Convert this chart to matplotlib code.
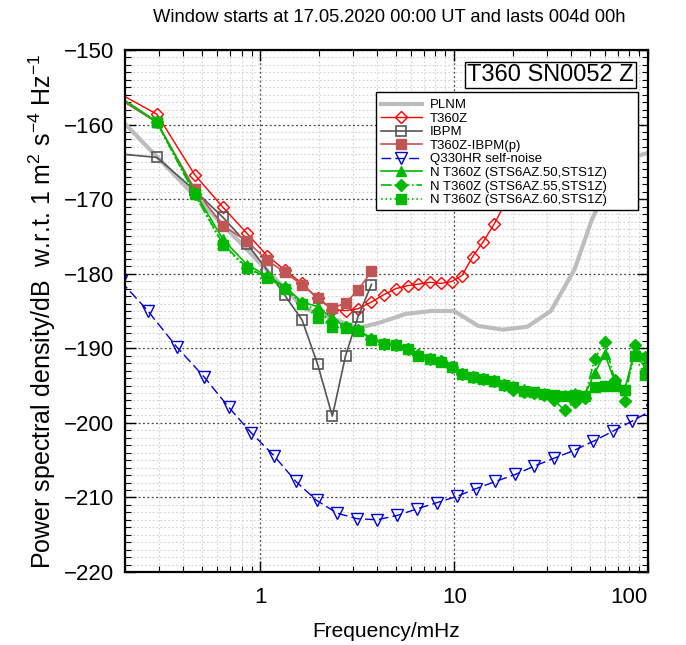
import numpy as np
import matplotlib
matplotlib.use('Agg')
import matplotlib.pyplot as plt
from matplotlib.patches import Rectangle
from matplotlib.ticker import LogLocator, NullFormatter, MultipleLocator, FixedLocator, FixedFormatter

plt.rcParams['font.family'] = ['Liberation Sans', 'DejaVu Sans']
plt.rcParams['mathtext.fontset'] = 'custom'
plt.rcParams['mathtext.rm'] = 'Liberation Sans'
plt.rcParams['mathtext.it'] = 'Liberation Sans:italic'
plt.rcParams['mathtext.bf'] = 'Liberation Sans:bold'

#======================================================================
# values (frequency in mHz, PSD in dB)

plnm_f = [0.2, 1.67, 3.2, 4.2, 5.6, 7.6, 10.0, 13.3, 17.8, 23.9, 31.5, 41.8, 50.9, 63.0, 80.0, 100.0]
plnm_v = [-159.9, -184.6, -187.3, -186.5, -185.4, -185.0, -185.0, -187.0, -187.5, -187.1,
          -185.0, -179.4, -173.0, -167.5, -164.5, -163.8]

# T360Z / IBPM / T360Z-IBPM(p) share one frequency grid
f_lo = [0.18, 0.292, 0.457, 0.641, 0.853, 1.083, 1.336, 1.64, 1.97, 2.35, 2.75, 3.19, 3.74]

t360z_f = [0.18, 0.292, 0.457, 0.641, 0.853, 1.083, 1.336, 1.64, 1.97, 2.35, 2.75, 3.19, 3.74,
           4.34, 4.99, 5.74, 6.54, 7.49, 8.53, 9.70, 10.96, 12.45, 14.13, 16.1, 18.3, 20.8]
t360z_v = [-155.6, -158.6, -166.7, -171.1, -174.6, -177.6, -179.5, -181.3, -183.3, -184.8,
           -184.95, -184.7, -183.8, -182.8, -182.0, -181.6, -181.4, -181.15, -181.3, -181.05,
           -180.25, -177.7, -175.7, -173.3, -170.6, -167.8]

ibpm_v = [-163.9, -164.4, -168.8, -172.45, -176.0, -179.5, -182.9, -186.2, -192.1, -199.1,
          -191.0, -185.75, -181.45]

resid_v = [-156.3, -159.7, -168.6, -173.55, -175.65, -178.2, -179.8, -181.5, -183.25, -184.65,
           -183.9, -182.2, -179.7]

q330_f = [0.19, 0.262, 0.371, 0.510, 0.686, 0.896, 1.172, 1.524, 1.95, 2.48, 3.16, 4.01, 5.09,
          6.46, 8.13, 10.3, 12.9, 16.3, 20.7, 25.9, 32.9, 41.4, 52.3, 65.9, 82.6, 105.0]
q330_v = [-181.0, -184.96, -189.87, -193.79, -197.90, -201.34, -204.38, -207.86, -210.40,
          -212.10, -212.86, -212.99, -212.41, -211.52, -210.71, -209.87, -208.84, -207.86,
          -206.92, -205.80, -204.73, -203.71, -202.46, -201.12, -199.78, -198.3]

n_f = [0.18, 0.292, 0.457, 0.641, 0.853, 1.083, 1.336, 1.64, 1.97, 2.35, 2.75, 3.19, 3.74,
       4.34, 4.99, 5.74, 6.54, 7.49, 8.53, 9.70, 10.96, 12.45, 14.13, 16.1, 18.1, 20.2, 23.0,
       25.9, 29.2, 32.9, 37.1, 41.8, 47.1, 53.1, 59.8, 67.4, 75.9, 85.5, 96.4]

n50_v = [-156.0, -159.6, -169.0, -175.4, -178.8, -180.3, -181.7, -183.8, -184.4, -186.0,
         -187.1, -187.5, -188.7, -189.3, -189.4, -190.0, -190.8, -191.3, -191.6, -192.4,
         -193.3, -193.8, -194.0, -194.4, -194.8, -195.1, -195.5, -195.8, -196.0, -196.3,
         -196.2, -196.0, -196.3, -193.3, -190.7, -194.5, -195.4, -190.5, -192.6]

n55_v = [-156.0, -159.7, -169.3, -176.0, -179.2, -180.5, -181.9, -183.9, -185.0, -186.4,
         -187.2, -187.6, -188.8, -189.4, -189.5, -190.1, -190.9, -191.4, -191.7, -192.5,
         -193.4, -193.9, -194.1, -194.4, -194.9, -195.6, -195.8, -196.0, -196.2, -197.0,
         -198.3, -197.2, -196.6, -191.4, -189.1, -194.3, -197.1, -189.5, -191.2]

n60_v = [-156.0, -159.7, -169.3, -176.2, -179.3, -180.6, -182.0, -184.0, -185.9, -187.1,
         -187.3, -187.7, -188.9, -189.4, -189.6, -190.1, -191.0, -191.4, -191.8, -192.55,
         -193.45, -193.9, -194.1, -194.4, -194.9, -195.2, -195.7, -195.9, -196.1, -196.3,
         -196.4, -196.2, -196.4, -195.2, -195.0, -195.0, -195.6, -191.1, -193.6]

#======================================================================

green = '#00b800'
brown = '#bf5555'

W, H = 686, 645
L, R, T, B = 125, 648, 50, 572

def ax_xy(px, py):
    # pixel position -> axes fraction
    return (px - L) / (R - L), (B - py) / (B - T)

fig = plt.figure(figsize=(W / 100, H / 100), dpi=100)
ax = fig.add_axes([L / W, 1 - B / H, (R - L) / W, (B - T) / H])

ax.plot(plnm_f, plnm_v, color='#bdbdbd', lw=3, label='PLNM')
ax.plot(t360z_f, t360z_v, color='red', lw=1, marker='D', ms=6, mfc='none', mew=1,
        label='T360Z')
ax.plot(f_lo, ibpm_v, color='#555555', lw=1.2, marker='s', ms=7, mfc='none', mew=1.2,
        label='IBPM')
ax.plot(f_lo, resid_v, color=brown, lw=1.2, marker='s', ms=7.5, label='T360Z-IBPM(p)')
ax.plot(q330_f, q330_v, color='#0000cc', lw=1, ls=(0, (7, 3)), marker='v', ms=8.5,
        mfc='none', mew=1, label='Q330HR self-noise')
ax.plot(n_f, n50_v, color=green, lw=1.2, ls='-', marker='^', ms=7.5,
        label='N T360Z (STS6AZ.50,STS1Z)')
ax.plot(n_f, n55_v, color=green, lw=1.2, ls='-.', marker='D', ms=6.5,
        label='N T360Z (STS6AZ.55,STS1Z)')
ax.plot(n_f, n60_v, color=green, lw=1.2, ls=':', marker='s', ms=7.5,
        label='N T360Z (STS6AZ.60,STS1Z)')

ax.set_xscale('log')
ax.set_xlim(0.2, 100)
ax.set_ylim(-220, -150)

ax.xaxis.set_major_locator(FixedLocator([1, 10, 100]))
ax.xaxis.set_major_formatter(FixedFormatter(['1', '10', '100']))
ax.xaxis.set_minor_locator(LogLocator(base=10, subs=np.arange(2, 10), numticks=20))
ax.xaxis.set_minor_formatter(NullFormatter())
ax.yaxis.set_major_locator(MultipleLocator(10))
ax.yaxis.set_minor_locator(MultipleLocator(1))

ax.tick_params(which='both', direction='in', top=True, right=True, labelsize=16)
ax.tick_params(which='major', length=8, width=1)
ax.tick_params(axis='x', which='major', pad=11)
ax.tick_params(axis='y', which='major', pad=8)
ax.tick_params(which='minor', length=4, width=0.8)
ax.get_xticklabels()[-1].set_ha('right')

ax.grid(which='minor', color='#d2d2d2', ls=(0, (1.5, 2)), lw=0.8)
ax.grid(which='major', color='#444444', ls=(0, (1.5, 2)), lw=0.9)
ax.set_axisbelow(True)
for s in ax.spines.values():
    s.set_linewidth(1.6)

ax.set_xlabel('Frequency/mHz', fontsize=15, labelpad=10)
ax.set_ylabel(r'Power spectral density/dB  w.r.t. 1 m$^2$ s$^{-4}$ Hz$^{-1}$', fontsize=18,
              labelpad=4)
fig.text(389 / W, 1 - 18 / H, 'Window starts at 17.05.2020 00:00 UT and lasts 004d 00h',
         ha='center', va='center', fontsize=13.2)

bx, by = ax_xy(634, 64)
ax.text(bx, by, 'T360 SN0052 Z', transform=ax.transAxes, ha='right', va='top',
        fontsize=17, bbox=dict(boxstyle='square,pad=0.1', fc='white', ec='black', lw=1))

# legend box drawn by hand, it is wider than the entries
x0, y0 = ax_xy(376, 210)
x1, y1 = ax_xy(638, 92)
ax.add_patch(Rectangle((x0, y0), x1 - x0, y1 - y0, transform=ax.transAxes, fc='white',
                       ec='black', lw=1, zorder=4.9, clip_on=False))
lx, ly = ax_xy(381, 99)
leg = ax.legend(loc='upper left', bbox_to_anchor=(lx, ly), borderaxespad=0, borderpad=0,
                fontsize=9.5, handlelength=3.1, handletextpad=0.6, labelspacing=0.1,
                frameon=False)

fig.savefig('out.png', dpi=100)
